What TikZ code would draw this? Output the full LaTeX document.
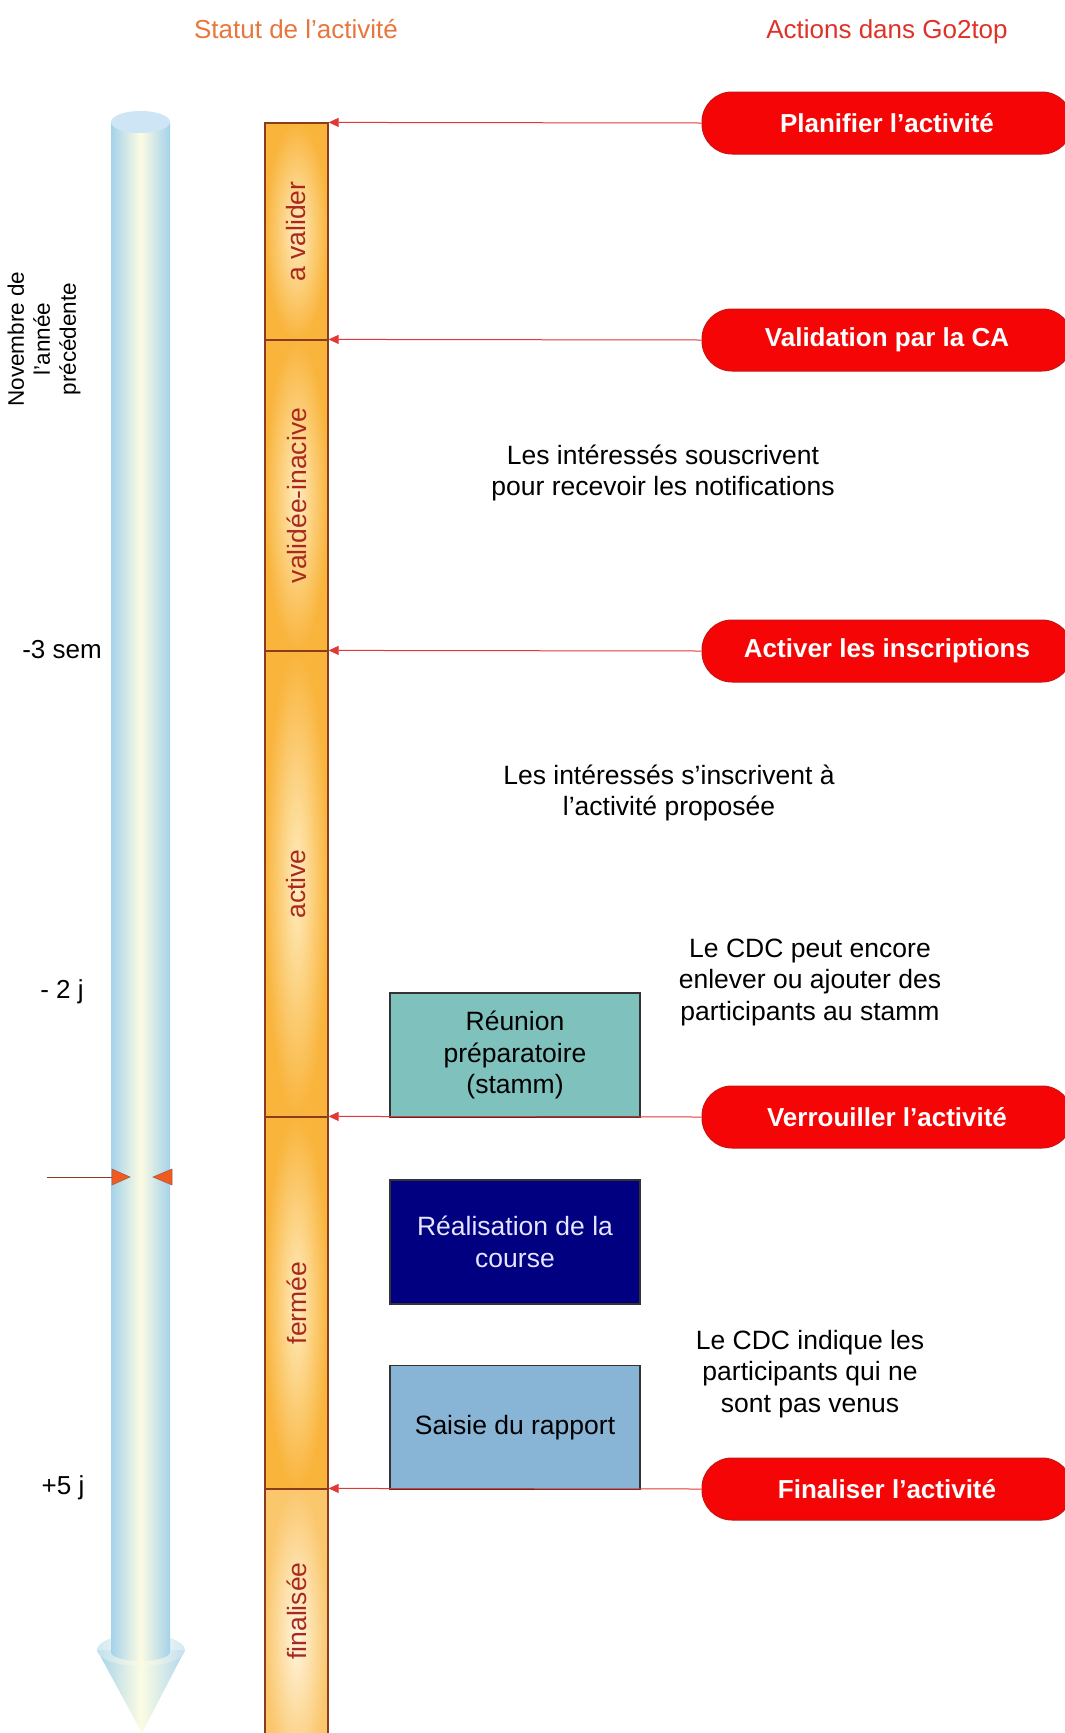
\documentclass[tikz,border=0pt]{standalone}
\usepackage{fontspec}
\setmainfont{Liberation Sans}
\usetikzlibrary{arrows.meta}
\definecolor{poleblue}{RGB}{164,210,234}
\definecolor{polecream}{RGB}{252,252,228}
\definecolor{polecap}{RGB}{205,229,245}
\definecolor{barorange}{RGB}{249,180,60}
\definecolor{barlight}{RGB}{255,236,190}
\definecolor{segborder}{RGB}{140,60,30}
\definecolor{lblred}{RGB}{170,40,30}
\definecolor{pillred}{RGB}{245,5,5}
\definecolor{pillborder}{RGB}{200,20,20}
\definecolor{arrred}{RGB}{225,55,55}
\definecolor{hdorange}{RGB}{232,118,60}
\definecolor{hdred}{RGB}{222,50,40}
\definecolor{teal}{RGB}{127,193,189}
\definecolor{navy}{RGB}{0,0,128}
\definecolor{skyb}{RGB}{136,180,214}
\definecolor{tipor}{RGB}{240,90,30}
\begin{document}
\begin{tikzpicture}[x=1pt,y=-1pt,
  seg/.style={draw=segborder, line width=1.2pt, minimum width=63pt, inner sep=0pt,
    inner color=barlight, outer color=barorange},
  barlbl/.style={rotate=90, text=lblred, font=\fontsize{26.5}{30}\selectfont},
  pill/.style={draw=pillborder, fill=pillred, line width=1pt, rounded corners=30pt,
    minimum width=370pt, minimum height=62pt, text=white,
    font=\bfseries\fontsize{26}{30}\selectfont},
  note/.style={align=center, font=\fontsize{26.5}{31.5}\selectfont},
  box/.style={draw=black!80, line width=1.2pt, minimum width=250pt, minimum height=124pt,
    align=center, font=\fontsize{26.5}{31.5}\selectfont},
  arr/.style={draw=arrred, line width=1pt, -{Triangle[length=10pt,width=9pt]}},
  side/.style={font=\fontsize{26}{30}\selectfont},
  header/.style={anchor=base, font=\fontsize{26}{30}\selectfont}
]
\useasboundingbox (0,0) rectangle (1065,1733);

% headers
\node[header, text=hdorange] (h1) at (296,38) {Statut de l'activité};
\node[header, text=hdred] (h2) at (887,38) {Actions dans Go2top};

% blue time pole
\shade[left color=poleblue, right color=poleblue!90, middle color=polecream]
  (97,1650) -- (185,1650) -- (142,1733) -- cycle;
\shade[left color=poleblue!60, right color=poleblue!60, middle color=polecream, opacity=0.8]
  (141,1650) ellipse [x radius=44pt, y radius=16pt];
\shade[left color=poleblue, right color=poleblue, middle color=polecream]
  (111,122) -- (111,1652) arc[start angle=180, end angle=360, x radius=29.5pt, y radius=9pt]
  -- (170,122) -- cycle;
\fill[polecap] (140.5,122) ellipse [x radius=29.5pt, y radius=11pt];

% side labels
\node[side, rotate=90, align=center, font=\fontsize{22.5}{26}\selectfont] (nov) at (44,339) {Novembre de\\l'année\\précédente};
\node[side] (t1) at (62,650) {-3 sem};
\node[side] (t2) at (62,992) {- 2 j};
\node[side] (t3) at (63,1488) {+5 j};

% marker on pole
\coordinate (mk) at (47,1177);
\coordinate (mkL) at (112,1177);
\draw[segborder, line width=1pt] (mk) -- (mkL);
\fill[tipor, draw=segborder!80, line width=0.6pt] (112,1169) -- (130,1177) -- (112,1185) -- cycle;
\fill[tipor, draw=segborder!80, line width=0.6pt] (172,1169) -- (153,1177) -- (172,1185) -- cycle;

% status bar
\node[seg, minimum height=217pt] (s1) at (296.5,231.5) {};
\node[seg, minimum height=311pt] (s2) at (296.5,495.5) {};
\node[seg, minimum height=466pt] (s3) at (296.5,884) {};
\node[seg, minimum height=372pt] (s4) at (296.5,1303) {};
\node[seg, minimum height=290pt, inner color=barlight!50!white, outer color=barorange!75!white] (s5) at (296.5,1634) {};
\node[barlbl] (l1) at (s1) {a valider};
\node[barlbl] (l2) at (s2) {validée-inacive};
\node[barlbl] (l3) at (s3) {active};
\node[barlbl] (l4) at (s4) {fermée};
\node[barlbl] (l5) at (296.5,1611) {finalisée};

% boxes
\node[box, fill=teal] (b1) at (515,1055) {Réunion\\préparatoire\\(stamm)};
\node[box, fill=navy, text=white!90!blue] (b2) at (515,1242) {Réalisation de la\\course};
\node[box, fill=skyb] (b3) at (515,1427.5) {Saisie du rapport};

% notes
\node[note] (n1) at (663,473) {Les intéressés souscrivent\\pour recevoir les notifications};
\node[note] (n2) at (669,793) {Les intéressés s'inscrivent à\\l'activité proposée};
\node[note] (n3) at (810,982) {Le CDC peut encore\\enlever ou ajouter des\\participants au stamm};
\node[note] (n4) at (810,1374) {Le CDC indique les\\participants qui ne\\sont pas venus};

% action pills
\node[pill] (p1) at (887,123) {Planifier l'activité};
\node[pill] (p2) at (887,340) {Validation par la CA};
\node[pill] (p3) at (887,651) {Activer les inscriptions};
\node[pill] (p4) at (887,1117) {Verrouiller l'activité};
\node[pill] (p5) at (887,1489) {Finaliser l'activité};

% arrows
\draw[arr] (p1.west) -- (s1.north east);
\draw[arr] (p2.west) -- (s2.north east);
\draw[arr] (p3.west) -- (s3.north east);
\draw[arr] (p4.west) -- (s4.north east);
\draw[arr] (p5.west) -- (s5.north east);
\end{tikzpicture}
\end{document}
